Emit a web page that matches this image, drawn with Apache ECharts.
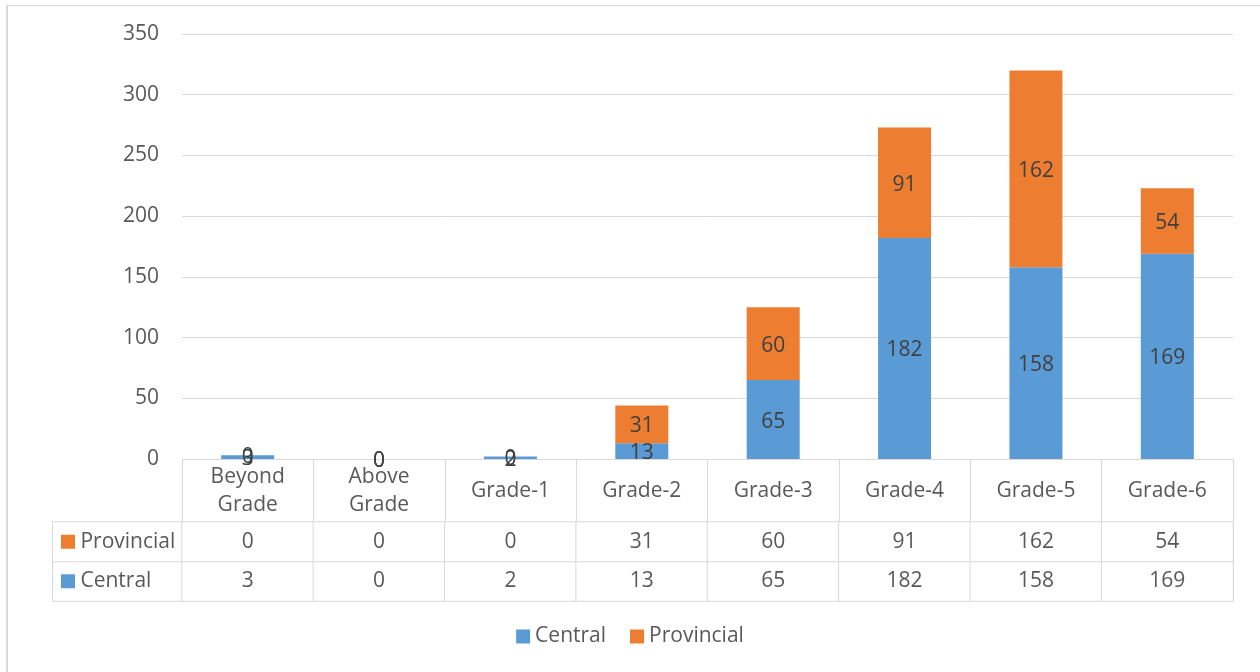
<!DOCTYPE html>
<html>
<head>
<meta charset="utf-8">
<script src="https://cdn.jsdelivr.net/npm/echarts@6/dist/echarts.min.js"></script>
<style>
    body{margin:0;background:#fff;overflow:hidden;}
    #frame{position:absolute;left:6px;top:5px;width:1400px;height:800px;border-left:2px solid #d9d9d9;border-top:1px solid #d9d9d9;}
    #main{position:absolute;left:0;top:0;width:1260px;height:672px;}
</style>
</head>
<body>
<div id="frame"></div>
<div id="main"></div>
<script>
    var categories = ['Beyond\nGrade', 'Above\nGrade', 'Grade-1', 'Grade-2', 'Grade-3', 'Grade-4', 'Grade-5', 'Grade-6'];
    var central = [3, 0, 2, 13, 65, 182, 158, 169];
    var provincial = [0, 0, 0, 31, 60, 91, 162, 54];
    var rowNames = ['Central', 'Provincial']; // bottom row first
    var yTicks = {min: 0, max: 350, interval: 50};

    var colors = {Central: '#5b9bd5', Provincial: '#ed7d31'};
    var font = 'Open Sans';
    var fs = 21;
    var lineColor = '#d9d9d9';

    // table cells: [col, row, value]
    var tableCells = [];
    for (var i = 0; i < categories.length; i++) {
        tableCells.push([i, 0, central[i]]);
        tableCells.push([i, 1, provincial[i]]);
    }

    var barLabel = {
        show: true,
        position: 'inside',
        fontFamily: font,
        fontSize: fs,
        color: '#404040',
        offset: [0, 2]
    };

    var chart = echarts.init(document.getElementById('main'));
    chart.setOption({
        animation: false,
        textStyle: {fontFamily: font},
        grid: [
            {left: 182, right: 27, top: 34, height: 425},
            {left: 182, right: 27, top: 522, height: 79}
        ],
        legend: {
            data: ['Central', 'Provincial'],
            bottom: 20,
            left: 'center',
            icon: 'rect',
            itemWidth: 14,
            itemHeight: 14,
            itemGap: 24,
            textStyle: {fontFamily: font, fontSize: fs, color: '#595959'}
        },
        xAxis: [
            {
                type: 'category',
                gridIndex: 0,
                data: categories,
                axisLine: {lineStyle: {color: lineColor, width: 1}},
                axisTick: {show: true, length: 142, lineStyle: {color: lineColor}},
                axisLabel: {
                    margin: 32,
                    verticalAlign: 'middle',
                    lineHeight: 28,
                    fontFamily: font,
                    fontSize: fs,
                    color: '#595959',
                    interval: 0
                }
            },
            {
                type: 'category',
                gridIndex: 1,
                data: categories,
                show: false
            }
        ],
        yAxis: [
            {
                type: 'value',
                gridIndex: 0,
                min: yTicks.min,
                max: yTicks.max,
                interval: yTicks.interval,
                axisLine: {show: false},
                axisTick: {show: false},
                splitLine: {lineStyle: {color: lineColor, width: 1}},
                axisLabel: {margin: 23, fontFamily: font, fontSize: fs, color: '#595959'}
            },
            {
                type: 'category',
                gridIndex: 1,
                data: rowNames,
                axisLine: {show: false},
                axisTick: {show: false},
                axisLabel: {
                    interval: 0,
                    hideOverlap: false,
                    margin: 129,
                    align: 'left',
                    verticalAlign: 'middle',
                    width: 121,
                    height: 39,
                    lineHeight: 39,
                    padding: [0, 0, 0, 8],
                    borderColor: lineColor,
                    borderWidth: 1,
                    backgroundColor: '#fff',
                    formatter: function (name) {
                        return '{' + name + '|}{t| ' + name + '}';
                    },
                    rich: {
                        Central: {width: 14, height: 14, backgroundColor: colors.Central},
                        Provincial: {width: 14, height: 14, backgroundColor: colors.Provincial},
                        t: {fontFamily: font, fontSize: fs, color: '#595959'}
                    }
                }
            }
        ],
        series: [
            {
                name: 'Central',
                type: 'bar',
                stack: 'total',
                barWidth: 53,
                xAxisIndex: 0,
                yAxisIndex: 0,
                data: central,
                itemStyle: {color: colors.Central},
                label: barLabel
            },
            {
                name: 'Provincial',
                type: 'bar',
                stack: 'total',
                barWidth: 53,
                xAxisIndex: 0,
                yAxisIndex: 0,
                data: provincial,
                itemStyle: {color: colors.Provincial},
                label: barLabel
            },
            {
                name: 'table',
                type: 'heatmap',
                xAxisIndex: 1,
                yAxisIndex: 1,
                data: tableCells,
                itemStyle: {color: '#fff', borderColor: lineColor, borderWidth: 1},
                label: {
                    show: true,
                    fontFamily: font,
                    fontSize: fs,
                    color: '#595959',
                    formatter: function (p) { return p.value[2]; }
                },
                emphasis: {disabled: true},
                silent: true
            }
        ]
    });
</script>
</body>
</html>
